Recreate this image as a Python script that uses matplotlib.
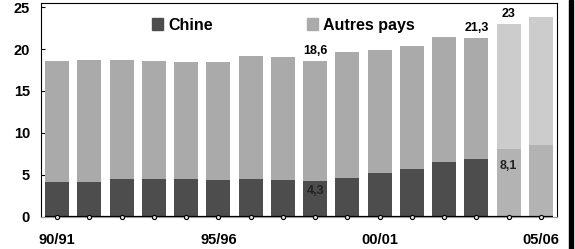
import numpy as np
import matplotlib
matplotlib.use("Agg")
import matplotlib.pyplot as plt
from matplotlib.patches import Patch, Rectangle

plt.rcParams["font.family"] = ["Liberation Sans", "DejaVu Sans"]
plt.rcParams["font.weight"] = "bold"

# données (millions de tonnes)
campagnes = ["90/91", "91/92", "92/93", "93/94", "94/95", "95/96", "96/97", "97/98",
             "98/99", "99/00", "00/01", "01/02", "02/03", "03/04", "04/05", "05/06"]
chine = [4.15, 4.15, 4.5, 4.5, 4.5, 4.4, 4.5, 4.4, 4.3, 4.6, 5.2, 5.7, 6.55, 6.9, 8.1, 8.6]
total = [18.6, 18.75, 18.75, 18.6, 18.5, 18.5, 19.2, 19.1, 18.6, 19.7, 19.95, 20.4, 21.4, 21.3, 23.0, 23.8]
prevision = [False] * 14 + [True, True]
ticks_x = ["90/91", "95/96", "00/01", "05/06"]

autres = [t - c for t, c in zip(total, chine)]
x = np.arange(len(campagnes))

col_chine = ["#b3b3b3" if p else "#4d4d4d" for p in prevision]
col_autres = ["#cccccc" if p else "#aaaaaa" for p in prevision]

fig = plt.figure(figsize=(5.75, 2.49), dpi=100)
ax = fig.add_axes([41 / 575, 32.3 / 249, 516 / 575, 213.7 / 249])

w = 0.74
ax.bar(x, chine, width=w, color=col_chine, zorder=2)
ax.bar(x, autres, width=w, bottom=chine, color=col_autres, zorder=2)

# ligne de base avec marqueurs
ax.hlines(0, x[0] - w / 2, x[-1] + w / 2, color="black", lw=1.6, zorder=3)
ax.plot(x, np.zeros(len(x)), "o", ms=3, mfc="#dddddd", mec="black", mew=0.8,
        zorder=4, clip_on=False)

# étiquettes
def fr(v):
    s = ("%.1f" % v).replace(".", ",")
    return s[:-2] if s.endswith(",0") else s

for i in [8, 13, 14]:
    ax.text(x[i], total[i] + 0.45, fr(total[i]), ha="center", va="bottom",
            fontsize=9, fontweight="bold")
for i, dy in [(8, 0.5), (14, 1.3)]:
    ax.text(x[i], chine[i] - dy, fr(chine[i]), ha="center", va="top",
            fontsize=9, fontweight="bold", color="#222222")

ax.set_xlim(-0.5, len(x) - 0.5)
ax.set_ylim(0, 25.5)
ax.set_yticks([0, 5, 10, 15, 20, 25])
ax.set_xticks([campagnes.index(t) for t in ticks_x])
ax.set_xticklabels(ticks_x)
ax.tick_params(axis="y", direction="in", length=3, width=0.8, pad=8, labelsize=10.5)
ax.tick_params(axis="x", length=0, pad=12, labelsize=10.5)
for s in ["left", "top", "right"]:
    ax.spines[s].set_linewidth(0.8)
ax.spines["bottom"].set_color("#999999")
ax.spines["bottom"].set_linewidth(0.8)

handles = [Patch(color="#4d4d4d", label="Chine"), Patch(color="#aaaaaa", label="Autres pays")]
ax.legend(handles=handles, ncol=2, frameon=False, loc="center left",
          bbox_to_anchor=(111 / 516, 0.897), prop={"size": 11.5, "weight": "bold"},
          handlelength=0.7, handleheight=0.7, handletextpad=0.3, columnspacing=5.9,
          borderpad=0, borderaxespad=0)

fig.add_artist(Rectangle((569 / 575, 0), 4 / 575, 1, transform=fig.transFigure,
                         color="black"))

fig.savefig("out.png", dpi=100)
